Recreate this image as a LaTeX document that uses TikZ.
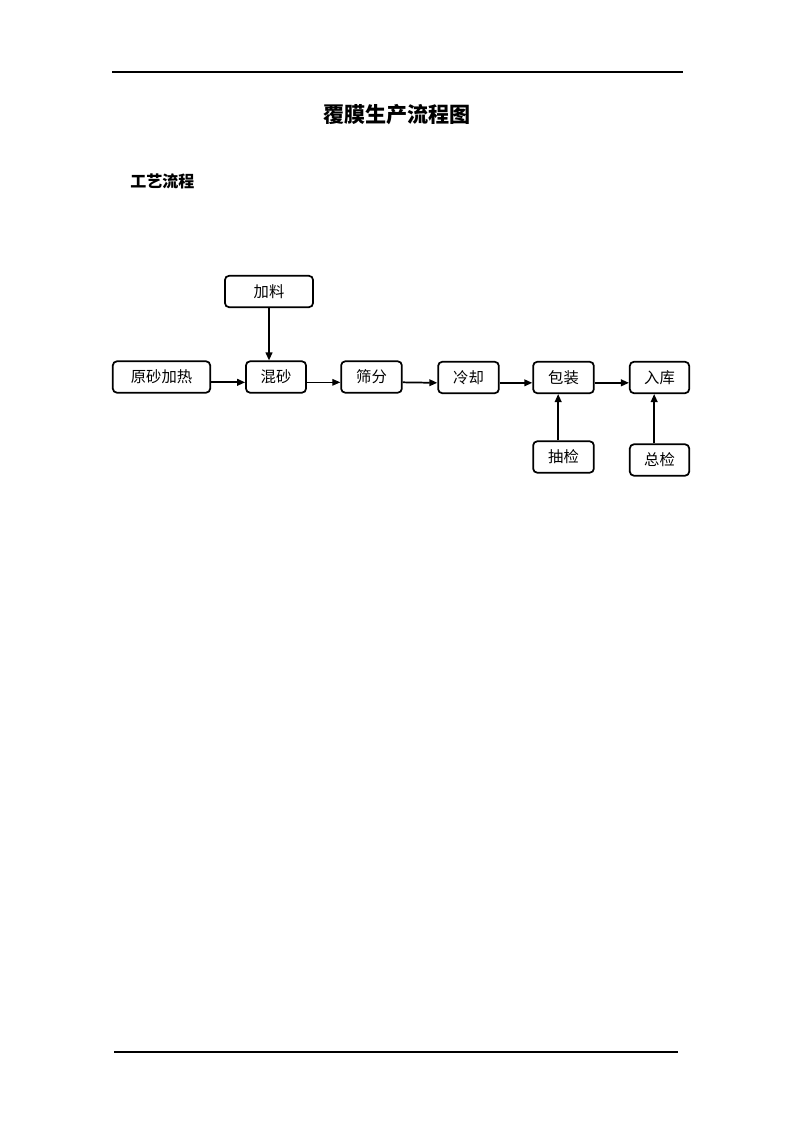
\documentclass[tikz,border=0pt]{standalone}
\usepackage{fontspec}
\newfontfamily\cjk{Noto Sans CJK SC}
\usetikzlibrary{arrows.meta}

\begin{document}
\begin{tikzpicture}[x=0.75pt, y=-0.75pt,
  main/.style = {draw, rounded corners=3pt, line width=1.3pt, minimum height=23.5pt,
    inner sep=0pt, font=\cjk\fontsize{11.5}{12}\selectfont},
  flow/.style = {line width=1.3pt, -{Triangle[length=6pt, width=5pt]}}]
	\useasboundingbox (0, 0) rectangle (794, 1123);
	% page rules and headings
	\draw[line width=0.8pt] (112, 72) -- (683, 72);
	\draw[line width=0.8pt] (114, 1052) -- (678, 1052);
	\node[font=\cjk\bfseries\fontsize{15.8}{17}\selectfont] (title) at (397, 115){覆膜生产流程图};
	\node[font=\cjk\bfseries\fontsize{12}{13}\selectfont, anchor=west, inner sep=0pt] (sub) at (130, 181){工艺流程};
	% boxes
	\node[main, minimum width=66pt] (jl) at (269, 291.5){加料};
	\node[main, minimum width=73pt] (yr) at (161.5, 377){原砂加热};
	\node[main, minimum width=45pt] (hs) at (276, 377){混砂};
	\node[main, minimum width=45.5pt] (sf) at (371.5, 377){筛分};
	\node[main, minimum width=45.5pt] (lq) at (468.5, 377.5){冷却};
	\node[main, minimum width=45.5pt] (bz) at (563.5, 377.5){包装};
	\node[main, minimum width=44.5pt] (rk) at (659.5, 377.5){入库};
	\node[main, minimum width=45.5pt] (cj) at (563.5, 457){抽检};
	\node[main, minimum width=44.5pt] (zj) at (659.5, 460){总检};
	% connectors
	\draw[flow] ([yshift=-4pt]yr.east) -- ([yshift=-4pt]hs.west);
	\draw[flow, line width=0.8pt] ([yshift=-4pt]hs.east) -- ([yshift=-4pt]sf.west);
	\draw[flow] ([yshift=-4pt]sf.east) -- ([yshift=-4pt]lq.west);
	\draw[flow] ([yshift=-4pt]lq.east) -- ([yshift=-4pt]bz.west);
	\draw[flow] ([yshift=-4pt]bz.east) -- ([yshift=-4pt]rk.west);
	\draw[flow] (jl.south) -- (jl.south |- hs.north);
	\draw[flow] ([xshift=-4pt]cj.north) -- ([xshift=-4pt]bz.south);
	\draw[flow] ([xshift=-4pt]zj.north) -- ([xshift=-4pt]rk.south);
\end{tikzpicture}
\end{document}
